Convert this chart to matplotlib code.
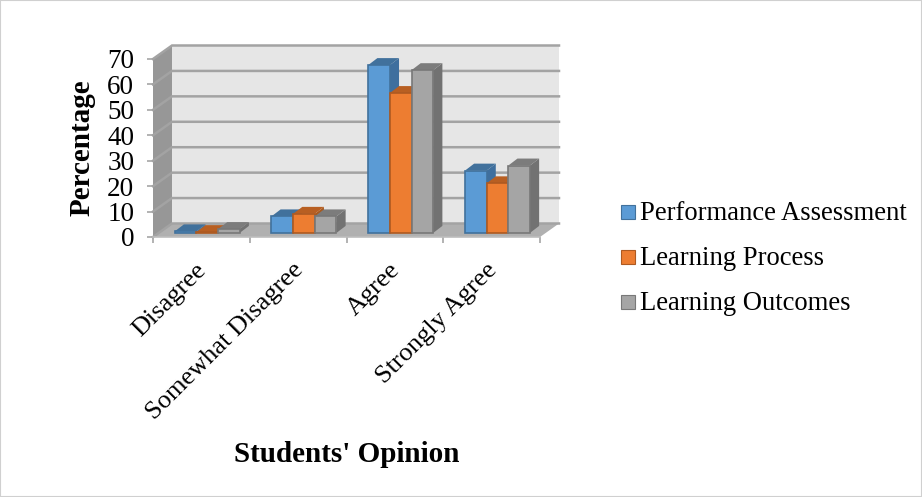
import matplotlib
matplotlib.use('Agg')
import matplotlib.pyplot as plt
from matplotlib.patches import Polygon, Rectangle

plt.rcParams['font.family'] = ['Liberation Serif', 'DejaVu Serif']

categories = ['Disagree', 'Somewhat Disagree', 'Agree', 'Strongly Agree']
series_names = ['Performance Assessment', 'Learning Process', 'Learning Outcomes']
performance = [0.6, 6.5, 66, 24.5]
process = [0.3, 7.5, 55, 19.5]
outcomes = [1.5, 6.5, 64, 26.5]
y_ticks = [0, 10, 20, 30, 40, 50, 60, 70]

FACE = ['#5B9BD5', '#ED7D31', '#A5A5A5']
EDGE = ['#41719C', '#AE5A21', '#787878']
TOP = ['#41719C', '#B85F22', '#7C7C7C']
SIDE = ['#3F6F9E', '#A85A20', '#727272']

W, H = 922, 497
fig = plt.figure(figsize=(W / 100, H / 100), dpi=100, facecolor='white')
fig.add_artist(Rectangle((0, 0), 1, 1, transform=fig.transFigure, fill=False,
                         edgecolor='#D0D0D0', lw=1.5))

# front plane of the fake 3D box, in pixels of the reference
x0, x1, y0, y1 = 153, 540, 237, 59
ax = fig.add_axes([x0 / W, 1 - y0 / H, (x1 - x0) / W, (y0 - y1) / H])
ax.set_xlim(0, 4)
ax.set_ylim(0, 70)
ax.patch.set_visible(False)
for s in ax.spines.values():
    s.set_visible(False)

# depth of the box and of the bars, in data units
DX = 19 / 96.75
DY = 13.5 / 2.543
BX0, BY0 = 0.06, 1.6       # bar front offset from the front plane
BDX, BDY = 0.095, 2.75     # bar depth
BAR_W = 0.224

def poly(pts, fc, ec='none', lw=0, z=1):
    ax.add_patch(Polygon(pts, closed=True, facecolor=fc, edgecolor=ec, lw=lw,
                         zorder=z, clip_on=False))

# walls and floor
poly([(DX, DY), (4 + DX, DY), (4 + DX, 70 + DY), (DX, 70 + DY)], '#E6E6E6', z=1)
poly([(0, 0), (DX, DY), (DX, 70 + DY), (0, 70)], '#979797', z=1)
poly([(0, 0), (4, 0), (4 + DX, DY), (DX, DY)], '#B0B0B0', z=1)

# gridlines run along the back wall and down the side wall
for v in y_ticks:
    ax.plot([0, DX, 4 + DX], [v, v + DY, v + DY], color='#A3A3A3', lw=1.8,
            clip_on=False, zorder=2, solid_joinstyle='miter')
ax.plot([0, 4], [0, 0], color='#BDBDBD', lw=1.2, clip_on=False, zorder=2)

# bars, back to front within a group so that each hides the last one's side
series = [performance, process, outcomes]
for i in range(len(categories)):
    for j, vals in enumerate(series):
        v = vals[i]
        left = i + 0.5 + (j - 1.5) * BAR_W + BX0
        right = left + BAR_W
        bottom = BY0
        top = BY0 + v
        z = 3 + j * 0.1
        poly([(right, bottom), (right + BDX, bottom + BDY), (right + BDX, top + BDY), (right, top)],
             SIDE[j], z=z)
        poly([(left, top), (right, top), (right + BDX, top + BDY), (left + BDX, top + BDY)],
             TOP[j], z=z)
        ax.bar(left, v, width=BAR_W, bottom=bottom, align='edge', color=FACE[j],
               edgecolor=EDGE[j], lw=1.2, zorder=z + 0.05, clip_on=False,
               label=series_names[j] if i == 0 else None)

ax.set_xticks([0, 1, 2, 3, 4])
ax.set_xticklabels([])
ax.set_yticks(y_ticks)
ax.tick_params(axis='x', length=4.5, width=1.2, color='#A6A6A6', direction='out')
ax.tick_params(axis='y', length=4.5, width=1.2, color='#A6A6A6', direction='out',
               labelsize=19.5, pad=9, labelcolor='black')

# rotated category labels end just under the middle of each slot
for i, name in enumerate(categories):
    ax.annotate(name, xy=(i + 0.5, 0), xycoords=ax.get_xaxis_transform(),
                xytext=(-6, -22), textcoords='offset pixels', rotation=45,
                ha='right', va='top', rotation_mode='anchor', fontsize=19,
                color='black')

fig.text(82 / W, 1 - 148 / H, 'Percentage', rotation=90, ha='center', va='center',
         fontsize=21, fontweight='bold')
fig.text(347 / W, 1 - 455 / H, "Students' Opinion", ha='center', va='center',
         fontsize=21, fontweight='bold')

# legend placed by hand
for y, name, fc, ec in zip([212, 257, 302], series_names, FACE, EDGE):
    fig.add_artist(Rectangle((621 / W, 1 - (y + 7) / H), 14 / W, 14 / H, transform=fig.transFigure,
                             facecolor=fc, edgecolor=ec, lw=0.8))
    fig.text(640 / W, 1 - (y + 8) / H, name, ha='left', va='baseline', fontsize=19.2)

fig.savefig('out.png', dpi=100)
